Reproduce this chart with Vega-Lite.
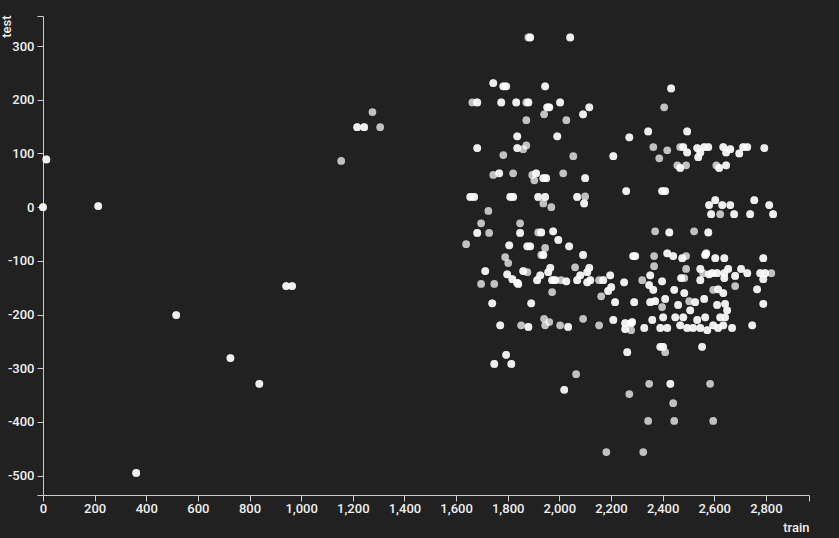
{
"$schema":"https://vega.github.io/schema/vega-lite/v6.json",
"width":766,"height":479,
"autosize":{"type":"none"},
"padding":{"left":43,"top":16,"right":30,"bottom":43},
"background":"#212121",
"config":{"view":{"stroke":null},"font":"Roboto"},
"data":{"values":[
{"train":0,"test":0},{"train":0,"test":0},
{"train":13,"test":89},{"train":13,"test":89},
{"train":214,"test":2},{"train":214,"test":2},
{"train":361,"test":-495},{"train":361,"test":-495},
{"train":516,"test":-201},{"train":516,"test":-201},
{"train":726,"test":-281},{"train":726,"test":-281},
{"train":838,"test":-329},{"train":838,"test":-329},
{"train":942,"test":-147},{"train":942,"test":-147},
{"train":965,"test":-147},{"train":965,"test":-147},
{"train":1155,"test":86},
{"train":1217,"test":149},{"train":1217,"test":149},
{"train":1244,"test":149},{"train":1244,"test":149},
{"train":1276,"test":177},
{"train":1306,"test":149},
{"train":1880,"test":316},
{"train":1887,"test":316},{"train":1887,"test":316},
{"train":2042,"test":316},{"train":2042,"test":316},
{"train":1744,"test":231},{"train":1744,"test":231},
{"train":1783,"test":225},{"train":1783,"test":225},
{"train":1794,"test":225},{"train":1794,"test":225},
{"train":1945,"test":225},{"train":1945,"test":225},
{"train":1663,"test":195},
{"train":1682,"test":195},{"train":1682,"test":195},
{"train":1775,"test":195},{"train":1775,"test":195},
{"train":1833,"test":195},{"train":1833,"test":195},
{"train":1872,"test":195},
{"train":1880,"test":195},{"train":1880,"test":195},
{"train":1953,"test":186},{"train":1953,"test":186},
{"train":1961,"test":186},{"train":1961,"test":186},
{"train":2003,"test":195},{"train":2003,"test":195},
{"train":2116,"test":186},{"train":2116,"test":186},
{"train":2092,"test":173},{"train":2092,"test":173},
{"train":1941,"test":173},
{"train":1872,"test":162},
{"train":2027,"test":162},
{"train":1837,"test":132},{"train":1837,"test":132},
{"train":1992,"test":132},{"train":1992,"test":132},
{"train":2271,"test":130},{"train":2271,"test":130},
{"train":1682,"test":110},{"train":1682,"test":110},
{"train":1837,"test":110},{"train":1837,"test":110},
{"train":1860,"test":108},
{"train":1872,"test":115},
{"train":1783,"test":97},
{"train":2054,"test":95},
{"train":2209,"test":95},{"train":2209,"test":95},
{"train":1744,"test":60},
{"train":1767,"test":63},{"train":1767,"test":63},
{"train":1821,"test":63},
{"train":1895,"test":60},
{"train":1910,"test":63},{"train":1910,"test":63},
{"train":1903,"test":50},
{"train":1938,"test":54},{"train":1938,"test":54},
{"train":1949,"test":54},{"train":1949,"test":54},
{"train":2015,"test":63},
{"train":2100,"test":54},{"train":2100,"test":54},
{"train":2259,"test":30},{"train":2259,"test":30},
{"train":1655,"test":19},{"train":1655,"test":19},
{"train":1670,"test":19},{"train":1670,"test":19},
{"train":1810,"test":19},{"train":1810,"test":19},
{"train":1821,"test":19},{"train":1821,"test":19},
{"train":1918,"test":19},{"train":1918,"test":19},
{"train":1945,"test":19},{"train":1945,"test":19},
{"train":1938,"test":7},
{"train":1969,"test":0},
{"train":2069,"test":19},{"train":2069,"test":19},
{"train":2100,"test":20},
{"train":2096,"test":7},{"train":2096,"test":7},
{"train":1725,"test":-7},
{"train":1848,"test":-30},
{"train":1697,"test":-30},
{"train":1682,"test":-48},{"train":1682,"test":-48},
{"train":1728,"test":-48},
{"train":1848,"test":-48},{"train":1848,"test":-48},
{"train":1918,"test":-47},
{"train":1930,"test":-47},{"train":1930,"test":-47},
{"train":1976,"test":-45},{"train":1976,"test":-45},
{"train":1996,"test":-61},{"train":1996,"test":-61},
{"train":1639,"test":-69},
{"train":1806,"test":-71},{"train":1806,"test":-71},
{"train":1876,"test":-73},{"train":1876,"test":-73},
{"train":1887,"test":-73},{"train":1887,"test":-73},
{"train":1945,"test":-76},
{"train":2038,"test":-73},{"train":2038,"test":-73},
{"train":1930,"test":-89},
{"train":1938,"test":-89},{"train":1938,"test":-89},
{"train":2092,"test":-89},{"train":2092,"test":-89},
{"train":2286,"test":-91},{"train":2286,"test":-91},
{"train":2294,"test":-91},{"train":2294,"test":-91},
{"train":1790,"test":-93},
{"train":1802,"test":-104},
{"train":2061,"test":-112},
{"train":1713,"test":-119},{"train":1713,"test":-119},
{"train":1860,"test":-119},{"train":1860,"test":-119},
{"train":1876,"test":-121},
{"train":1965,"test":-113},{"train":1965,"test":-113},
{"train":1957,"test":-121},{"train":1957,"test":-121},
{"train":2116,"test":-113},{"train":2116,"test":-113},
{"train":2108,"test":-121},{"train":2108,"test":-121},
{"train":1798,"test":-125},{"train":1798,"test":-125},
{"train":1818,"test":-134},{"train":1818,"test":-134},
{"train":1837,"test":-141},{"train":1837,"test":-141},
{"train":1914,"test":-136},{"train":1914,"test":-136},
{"train":1926,"test":-127},{"train":1926,"test":-127},
{"train":1972,"test":-136},{"train":1972,"test":-136},
{"train":1984,"test":-136},{"train":1984,"test":-136},
{"train":2007,"test":-136},
{"train":2027,"test":-138},{"train":2027,"test":-138},
{"train":2069,"test":-136},{"train":2069,"test":-136},
{"train":2081,"test":-127},{"train":2081,"test":-127},
{"train":2108,"test":-140},{"train":2108,"test":-140},
{"train":2120,"test":-136},{"train":2120,"test":-136},
{"train":2154,"test":-136},
{"train":2170,"test":-136},{"train":2170,"test":-136},
{"train":2197,"test":-127},{"train":2197,"test":-127},
{"train":2201,"test":-149},{"train":2201,"test":-149},
{"train":2189,"test":-156},{"train":2189,"test":-156},
{"train":2251,"test":-140},{"train":2251,"test":-140},
{"train":1697,"test":-143},
{"train":1748,"test":-143},
{"train":1841,"test":-143},{"train":1841,"test":-143},
{"train":1972,"test":-158},
{"train":2162,"test":-166},
{"train":2216,"test":-177},{"train":2216,"test":-177},
{"train":1740,"test":-179},{"train":1740,"test":-179},
{"train":1891,"test":-179},{"train":1891,"test":-179},
{"train":2290,"test":-177},{"train":2290,"test":-177},
{"train":1771,"test":-220},{"train":1771,"test":-220},
{"train":1852,"test":-220},
{"train":1880,"test":-223},{"train":1880,"test":-223},
{"train":1941,"test":-208},
{"train":1961,"test":-214},
{"train":1945,"test":-220},
{"train":2003,"test":-220},
{"train":2034,"test":-223},{"train":2034,"test":-223},
{"train":2092,"test":-208},
{"train":2154,"test":-220},
{"train":2209,"test":-210},{"train":2209,"test":-210},
{"train":2255,"test":-216},{"train":2255,"test":-216},
{"train":2278,"test":-216},{"train":2278,"test":-216},
{"train":2278,"test":-229},
{"train":2255,"test":-227},{"train":2255,"test":-227},
{"train":1794,"test":-275},{"train":1794,"test":-275},
{"train":1748,"test":-292},{"train":1748,"test":-292},
{"train":1814,"test":-292},{"train":1814,"test":-292},
{"train":2065,"test":-311},
{"train":2019,"test":-340},{"train":2019,"test":-340},
{"train":2263,"test":-270},{"train":2263,"test":-270},
{"train":2271,"test":-348},
{"train":2182,"test":-456},
{"train":2747,"test":-220},{"train":2747,"test":-220},
{"train":2391,"test":-260},{"train":2391,"test":-260},
{"train":2402,"test":-260},{"train":2402,"test":-260},
{"train":2410,"test":-270},
{"train":2553,"test":-260},{"train":2553,"test":-260},
{"train":2348,"test":-329},
{"train":2430,"test":-329},{"train":2430,"test":-329},
{"train":2584,"test":-329},
{"train":2441,"test":-365},
{"train":2344,"test":-398},
{"train":2445,"test":-398},
{"train":2596,"test":-398},
{"train":2325,"test":-456},
{"train":2433,"test":221},{"train":2433,"test":221},
{"train":2406,"test":186},
{"train":2344,"test":141},{"train":2344,"test":141},
{"train":2495,"test":141},{"train":2495,"test":141},
{"train":2364,"test":112},
{"train":2418,"test":106},
{"train":2387,"test":91},
{"train":2468,"test":112},
{"train":2480,"test":112},{"train":2480,"test":112},
{"train":2495,"test":102},{"train":2495,"test":102},
{"train":2534,"test":110},{"train":2534,"test":110},
{"train":2546,"test":102},{"train":2546,"test":102},
{"train":2538,"test":93},{"train":2538,"test":93},
{"train":2561,"test":112},{"train":2561,"test":112},
{"train":2577,"test":112},{"train":2577,"test":112},
{"train":2635,"test":112},{"train":2635,"test":112},
{"train":2646,"test":102},{"train":2646,"test":102},
{"train":2662,"test":108},{"train":2662,"test":108},
{"train":2697,"test":100},{"train":2697,"test":100},
{"train":2712,"test":112},{"train":2712,"test":112},
{"train":2728,"test":112},{"train":2728,"test":112},
{"train":2794,"test":110},{"train":2794,"test":110},
{"train":2457,"test":78},
{"train":2491,"test":78},
{"train":2468,"test":73},{"train":2468,"test":73},
{"train":2608,"test":78},
{"train":2619,"test":73},{"train":2619,"test":73},
{"train":2646,"test":78},{"train":2646,"test":78},
{"train":2398,"test":30},{"train":2398,"test":30},
{"train":2410,"test":30},{"train":2410,"test":30},
{"train":2604,"test":13},{"train":2604,"test":13},
{"train":2580,"test":4},{"train":2580,"test":4},
{"train":2631,"test":4},{"train":2631,"test":4},
{"train":2662,"test":4},{"train":2662,"test":4},
{"train":2588,"test":-13},{"train":2588,"test":-13},
{"train":2623,"test":-13},
{"train":2677,"test":-13},{"train":2677,"test":-13},
{"train":2755,"test":13},{"train":2755,"test":13},
{"train":2813,"test":4},{"train":2813,"test":4},
{"train":2739,"test":-13},{"train":2739,"test":-13},
{"train":2828,"test":-13},{"train":2828,"test":-13},
{"train":2371,"test":-45},
{"train":2426,"test":-47},{"train":2426,"test":-47},
{"train":2522,"test":-45},
{"train":2577,"test":-47},{"train":2577,"test":-47},
{"train":2367,"test":-91},
{"train":2418,"test":-86},{"train":2418,"test":-86},
{"train":2441,"test":-91},{"train":2441,"test":-91},
{"train":2476,"test":-95},{"train":2476,"test":-95},
{"train":2491,"test":-91},
{"train":2569,"test":-86},{"train":2569,"test":-86},
{"train":2565,"test":-89},{"train":2565,"test":-89},
{"train":2604,"test":-95},{"train":2604,"test":-95},
{"train":2639,"test":-95},{"train":2639,"test":-95},
{"train":2790,"test":-95},{"train":2790,"test":-95},
{"train":2367,"test":-110},
{"train":2491,"test":-115},
{"train":2352,"test":-127},{"train":2352,"test":-127},
{"train":2321,"test":-136},
{"train":2398,"test":-138},{"train":2398,"test":-138},
{"train":2472,"test":-132},{"train":2472,"test":-132},
{"train":2484,"test":-132},
{"train":2546,"test":-136},{"train":2546,"test":-136},
{"train":2546,"test":-115},{"train":2546,"test":-115},
{"train":2557,"test":-123},
{"train":2580,"test":-125},{"train":2580,"test":-125},
{"train":2592,"test":-123},{"train":2592,"test":-123},
{"train":2611,"test":-123},{"train":2611,"test":-123},
{"train":2639,"test":-123},{"train":2639,"test":-123},
{"train":2639,"test":-132},{"train":2639,"test":-132},
{"train":2654,"test":-115},{"train":2654,"test":-115},
{"train":2681,"test":-128},{"train":2681,"test":-128},
{"train":2704,"test":-115},{"train":2704,"test":-115},
{"train":2728,"test":-123},{"train":2728,"test":-123},
{"train":2778,"test":-123},{"train":2778,"test":-123},
{"train":2797,"test":-123},{"train":2797,"test":-123},
{"train":2821,"test":-123},
{"train":2790,"test":-134},{"train":2790,"test":-134},
{"train":2348,"test":-145},{"train":2348,"test":-145},
{"train":2364,"test":-154},{"train":2364,"test":-154},
{"train":2445,"test":-154},{"train":2445,"test":-154},
{"train":2484,"test":-160},{"train":2484,"test":-160},
{"train":2596,"test":-154},
{"train":2615,"test":-153},{"train":2615,"test":-153},
{"train":2635,"test":-160},{"train":2635,"test":-160},
{"train":2681,"test":-147},
{"train":2766,"test":-153},{"train":2766,"test":-153},
{"train":2371,"test":-175},{"train":2371,"test":-175},
{"train":2352,"test":-177},{"train":2352,"test":-177},
{"train":2410,"test":-171},{"train":2410,"test":-171},
{"train":2398,"test":-186},
{"train":2460,"test":-182},{"train":2460,"test":-182},
{"train":2503,"test":-175},
{"train":2526,"test":-177},{"train":2526,"test":-177},
{"train":2561,"test":-171},{"train":2561,"test":-171},
{"train":2611,"test":-182},{"train":2611,"test":-182},
{"train":2642,"test":-180},{"train":2642,"test":-180},
{"train":2790,"test":-180},{"train":2790,"test":-180},
{"train":2507,"test":-192},{"train":2507,"test":-192},
{"train":2650,"test":-192},{"train":2650,"test":-192},
{"train":2642,"test":-205},{"train":2642,"test":-205},
{"train":2623,"test":-205},{"train":2623,"test":-205},
{"train":2282,"test":-214},{"train":2282,"test":-214},
{"train":2329,"test":-225},{"train":2329,"test":-225},
{"train":2360,"test":-210},{"train":2360,"test":-210},
{"train":2391,"test":-225},{"train":2391,"test":-225},
{"train":2402,"test":-205},{"train":2402,"test":-205},
{"train":2418,"test":-225},{"train":2418,"test":-225},
{"train":2449,"test":-205},{"train":2449,"test":-205},
{"train":2468,"test":-220},{"train":2468,"test":-220},
{"train":2480,"test":-205},{"train":2480,"test":-205},
{"train":2495,"test":-225},{"train":2495,"test":-225},
{"train":2518,"test":-225},{"train":2518,"test":-225},
{"train":2534,"test":-210},{"train":2534,"test":-210},
{"train":2546,"test":-225},{"train":2546,"test":-225},
{"train":2565,"test":-205},{"train":2565,"test":-205},
{"train":2573,"test":-229},{"train":2573,"test":-229},
{"train":2596,"test":-220},{"train":2596,"test":-220},
{"train":2615,"test":-225},{"train":2615,"test":-225},
{"train":2635,"test":-220},{"train":2635,"test":-220},
{"train":2669,"test":-225},{"train":2669,"test":-225}
]},
"mark":{"type":"circle","size":60,"color":"#ffffff","opacity":0.72,"clip":false},
"encoding":{
"x":{"field":"train","type":"quantitative",
 "scale":{"domain":[0,2967],"nice":false,"zero":false},
 "axis":{"values":[0,200,400,600,800,1000,1200,1400,1600,1800,2000,2200,2400,2600,2800,2967],
  "labelExpr":"datum.value > 2900 ? '' : format(datum.value, ',')",
  "grid":false,"domainColor":"#cccccc","tickColor":"#cccccc","tickSize":6,"domainWidth":1,"tickWidth":1,
  "labelColor":"#f0f0f0","labelFont":"Roboto","labelFontSize":13,"labelFontWeight":500,"labelPadding":1,"labelFlush":false,"labelOverlap":false,
  "title":"train","titleColor":"#f0f0f0","titleFont":"Roboto","titleFontSize":13,"titleFontWeight":500,
  "titleX":766,"titleY":36,"titleAlign":"right","titleBaseline":"alphabetic","titleAnchor":null}},
"y":{"field":"test","type":"quantitative",
 "scale":{"domain":[-536,356],"nice":false,"zero":false},
 "axis":{"values":[-536,-500,-400,-300,-200,-100,0,100,200,300,356],
  "labelExpr":"datum.value < -520 || datum.value > 340 ? '' : toString(datum.value)",
  "grid":false,"domainColor":"#cccccc","tickColor":"#cccccc","tickSize":6,"domainWidth":1,"tickWidth":1,
  "labelColor":"#f0f0f0","labelFont":"Roboto","labelFontSize":13,"labelFontWeight":500,"labelPadding":3,"labelFlush":false,"labelOverlap":false,
  "title":"test","titleColor":"#f0f0f0","titleFont":"Roboto","titleFontSize":13,"titleFontWeight":500,
  "titleAngle":-90,"titleX":-33,"titleY":-1,"titleAlign":"right","titleBaseline":"alphabetic","titleAnchor":null}}
}
}
